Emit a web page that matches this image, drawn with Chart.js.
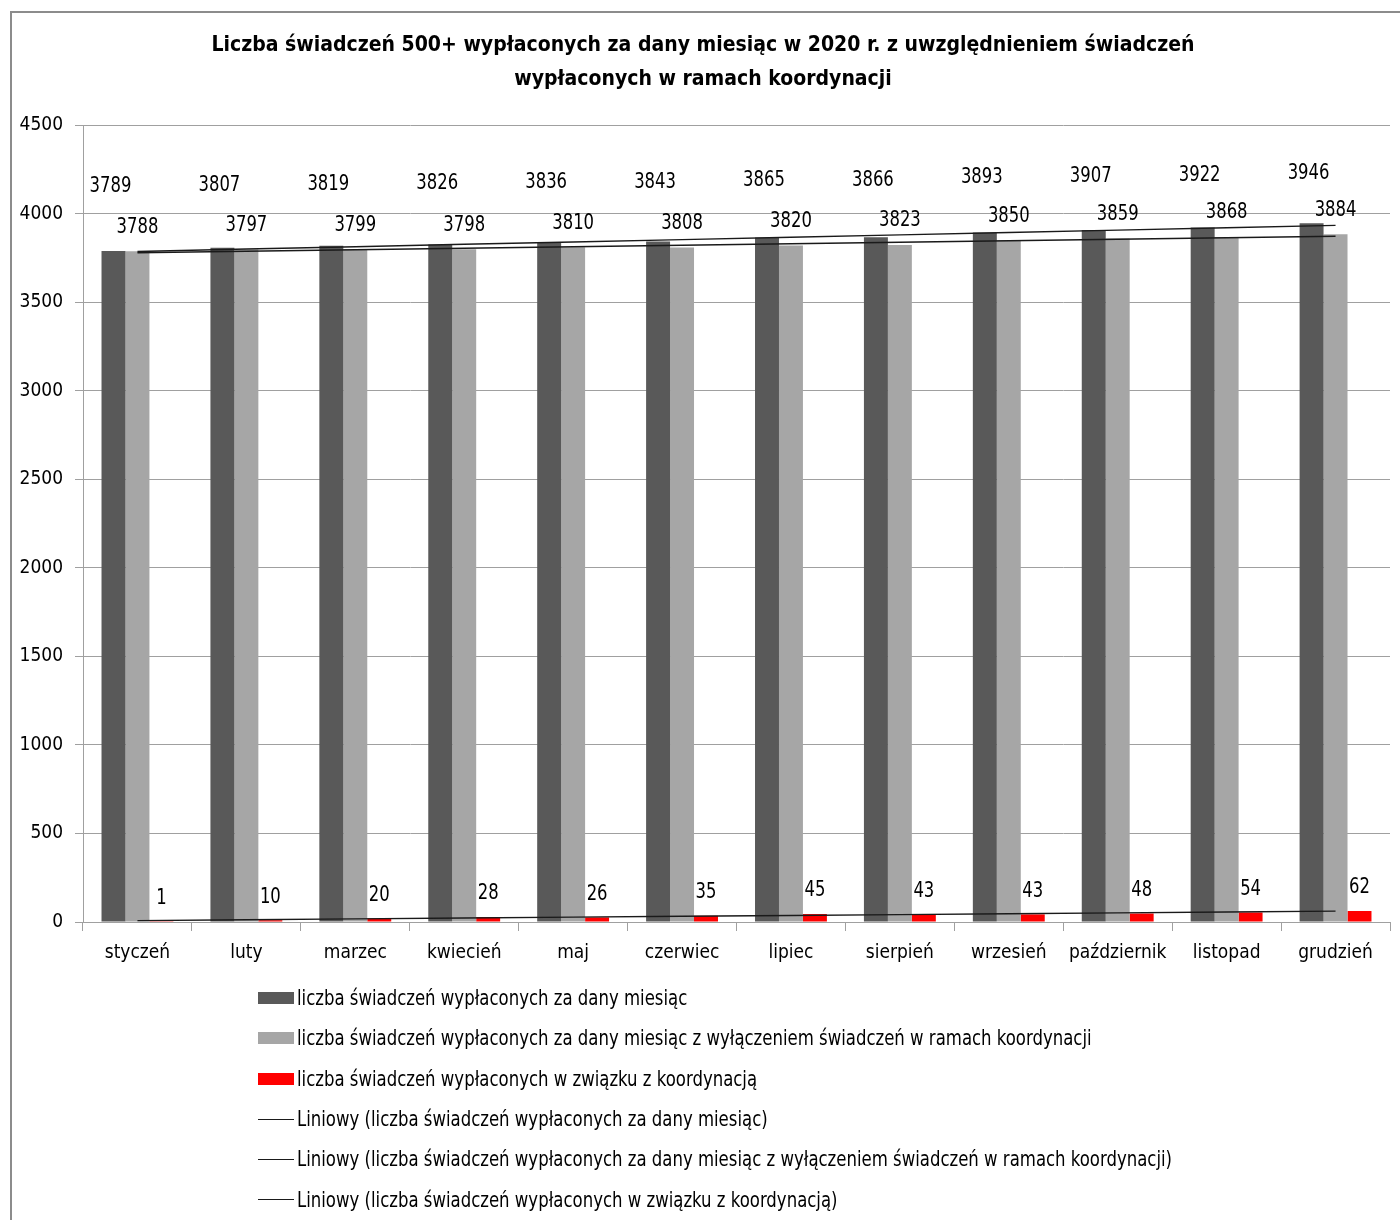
<!DOCTYPE html>
<html>
<head>
<meta charset="utf-8">
<script src="https://cdn.jsdelivr.net/npm/chart.js@4/dist/chart.umd.min.js"></script>
<style>
  html, body { margin: 0; padding: 0; background: #fff; }
  #wrap { position: relative; width: 1400px; height: 1220px; }
  #frame { position: absolute; left: 10px; top: 11px; width: 1400px; height: 1220px;
           border-left: 2px solid #8c8c8c; border-top: 2px solid #8c8c8c; }
  #chart { position: absolute; left: 0; top: 0; }
  #legend { position: absolute; left: 258px; top: 978px; font-family: 'Liberation Sans Narrow', 'Arial Narrow', 'DejaVu Sans Condensed', sans-serif;
            font-size: 21px; color: #000; }
  .item { height: 40.3px; display: flex; align-items: center; white-space: nowrap; }
  .mark { width: 36px; margin-right: 3px; flex: none; }
  .txt { display: inline-block; transform: scaleX(0.875); transform-origin: left center; }
</style>
</head>
<body>
<div id="wrap">
  <div id="frame"></div>
  <canvas id="chart" width="1400" height="1220"></canvas>
  <div id="legend"></div>
</div>
<script>
const months = ["styczeń", "luty", "marzec", "kwiecień", "maj", "czerwiec", "lipiec", "sierpień", "wrzesień", "październik", "listopad", "grudzień"];
const total = [3789, 3807, 3819, 3826, 3836, 3843, 3865, 3866, 3893, 3907, 3922, 3946];
const withoutCoord = [3788, 3797, 3799, 3798, 3810, 3808, 3820, 3823, 3850, 3859, 3868, 3884];
const coord = [1, 10, 20, 28, 26, 35, 45, 43, 43, 48, 54, 62];
const yTicks = [0, 500, 1000, 1500, 2000, 2500, 3000, 3500, 4000, 4500];

const nameTotal = "liczba świadczeń wypłaconych za dany miesiąc";
const nameWithout = "liczba świadczeń wypłaconych za dany miesiąc z wyłączeniem świadczeń w ramach koordynacji";
const nameCoord = "liczba świadczeń wypłaconych w związku z koordynacją";

const FONT = "'Liberation Sans Narrow', 'Arial Narrow', 'DejaVu Sans Condensed', sans-serif";

// linear trend (least squares), like Excel's "Liniowy"
const trend = (vals) => {
    const n = vals.length;
    const xs = vals.map((v, i) => i + 1);
    const mx = xs.reduce((a, b) => a + b, 0) / n;
    const my = vals.reduce((a, b) => a + b, 0) / n;
    let num = 0, den = 0;
    xs.forEach((x, i) => { num += (x - mx) * (vals[i] - my); den += (x - mx) * (x - mx); });
    const b = num / den;
    const a = my - b * mx;
    return xs.map(x => a + b * x);
}

// where each series' value label sits relative to its bar
const labelPos = {
    0: (bar, area) => [bar.x - 3, (bar.y + area.top) / 2 - 1],
    1: (bar) => [bar.x, bar.y - 24],
    2: (bar) => [bar.x, bar.y - 23],
};

const barLabels = {
    id: 'barLabels',
    afterDatasetsDraw(chart) {
        const ctx = chart.ctx;
        [0, 1, 2].forEach(di => {
            const meta = chart.getDatasetMeta(di);
            meta.data.forEach((bar, i) => {
                const [x, y] = labelPos[di](bar, chart.chartArea);
                ctx.save();
                ctx.font = "21px " + FONT;
                ctx.fillStyle = "#000";
                ctx.textAlign = "center";
                ctx.textBaseline = "middle";
                ctx.translate(x, y);
                ctx.scale(0.87, 1);
                ctx.fillText(String(chart.data.datasets[di].data[i]), 0, 0);
                ctx.restore();
            });
        });
    }
};

const ctx = document.getElementById("chart").getContext('2d');
const chart = new Chart(ctx, {
    type: 'bar',
    data: {
        labels: months,
        datasets: [
            { label: nameTotal, data: total, backgroundColor: "#595959", order: 2 },
            { label: nameWithout, data: withoutCoord, backgroundColor: "#a6a6a6", order: 2 },
            { label: nameCoord, data: coord, backgroundColor: "#ff0000", order: 2 },
            { type: 'line', label: "Liniowy (" + nameTotal + ")", data: trend(total), borderColor: "#1a1a1a", borderWidth: 1.4, pointRadius: 0, fill: false, order: 1 },
            { type: 'line', label: "Liniowy (" + nameWithout + ")", data: trend(withoutCoord), borderColor: "#1a1a1a", borderWidth: 1.4, pointRadius: 0, fill: false, order: 1 },
            { type: 'line', label: "Liniowy (" + nameCoord + ")", data: trend(coord), borderColor: "#1a1a1a", borderWidth: 1.4, pointRadius: 0, fill: false, order: 1 },
        ]
    },
    options: {
        responsive: false,
        animation: false,
        datasets: {
            bar: { categoryPercentage: 0.66, barPercentage: 1.0 }
        },
        layout: {
            padding: { left: 16, right: 10, top: 12, bottom: 238 }
        },
        plugins: {
            title: {
                display: true,
                text: ["Liczba świadczeń 500+ wypłaconych za dany miesiąc w 2020 r. z uwzględnieniem świadczeń", "wypłaconych w ramach koordynacji"],
                font: { size: 21, weight: 'bold', family: FONT, lineHeight: 1.62 },
                color: '#000',
                padding: { top: 17, bottom: 28 }
            },
            legend: { display: false },
            tooltip: { enabled: false }
        },
        scales: {
            x: {
                afterFit: (scale) => { scale.height = 60; },
                ticks: { color: '#000', font: { size: 19, family: FONT }, padding: 11, maxRotation: 0, minRotation: 0, autoSkip: false },
                grid: { drawOnChartArea: false, drawTicks: true, tickLength: 9, color: '#a0a0a0', offset: true },
                border: { color: '#a0a0a0', width: 1 }
            },
            y: {
                min: 0,
                max: 4500,
                afterFit: (scale) => { scale.width = 67; },
                afterBuildTicks: (scale) => { scale.ticks = yTicks.map(v => ({ value: v })); },
                ticks: { color: '#000', font: { size: 19, family: FONT }, padding: 12, callback: (v) => String(v) },
                grid: { color: '#a0a0a0', tickLength: 8 },
                border: { color: '#a0a0a0', width: 1 }
            }
        }
    },
    plugins: [barLabels]
});

// legend built from the chart's datasets
const legend = document.getElementById("legend");
chart.data.datasets.forEach(ds => {
    const row = document.createElement("div");
    row.className = "item";
    const mark = document.createElement("span");
    mark.className = "mark";
    if (ds.type === 'line') {
        mark.style.height = "1px";
        mark.style.background = ds.borderColor;
    } else {
        mark.style.height = "12px";
        mark.style.background = ds.backgroundColor;
    }
    const txt = document.createElement("span");
    txt.className = "txt";
    txt.textContent = ds.label;
    row.appendChild(mark);
    row.appendChild(txt);
    legend.appendChild(row);
});
</script>
</body>
</html>
